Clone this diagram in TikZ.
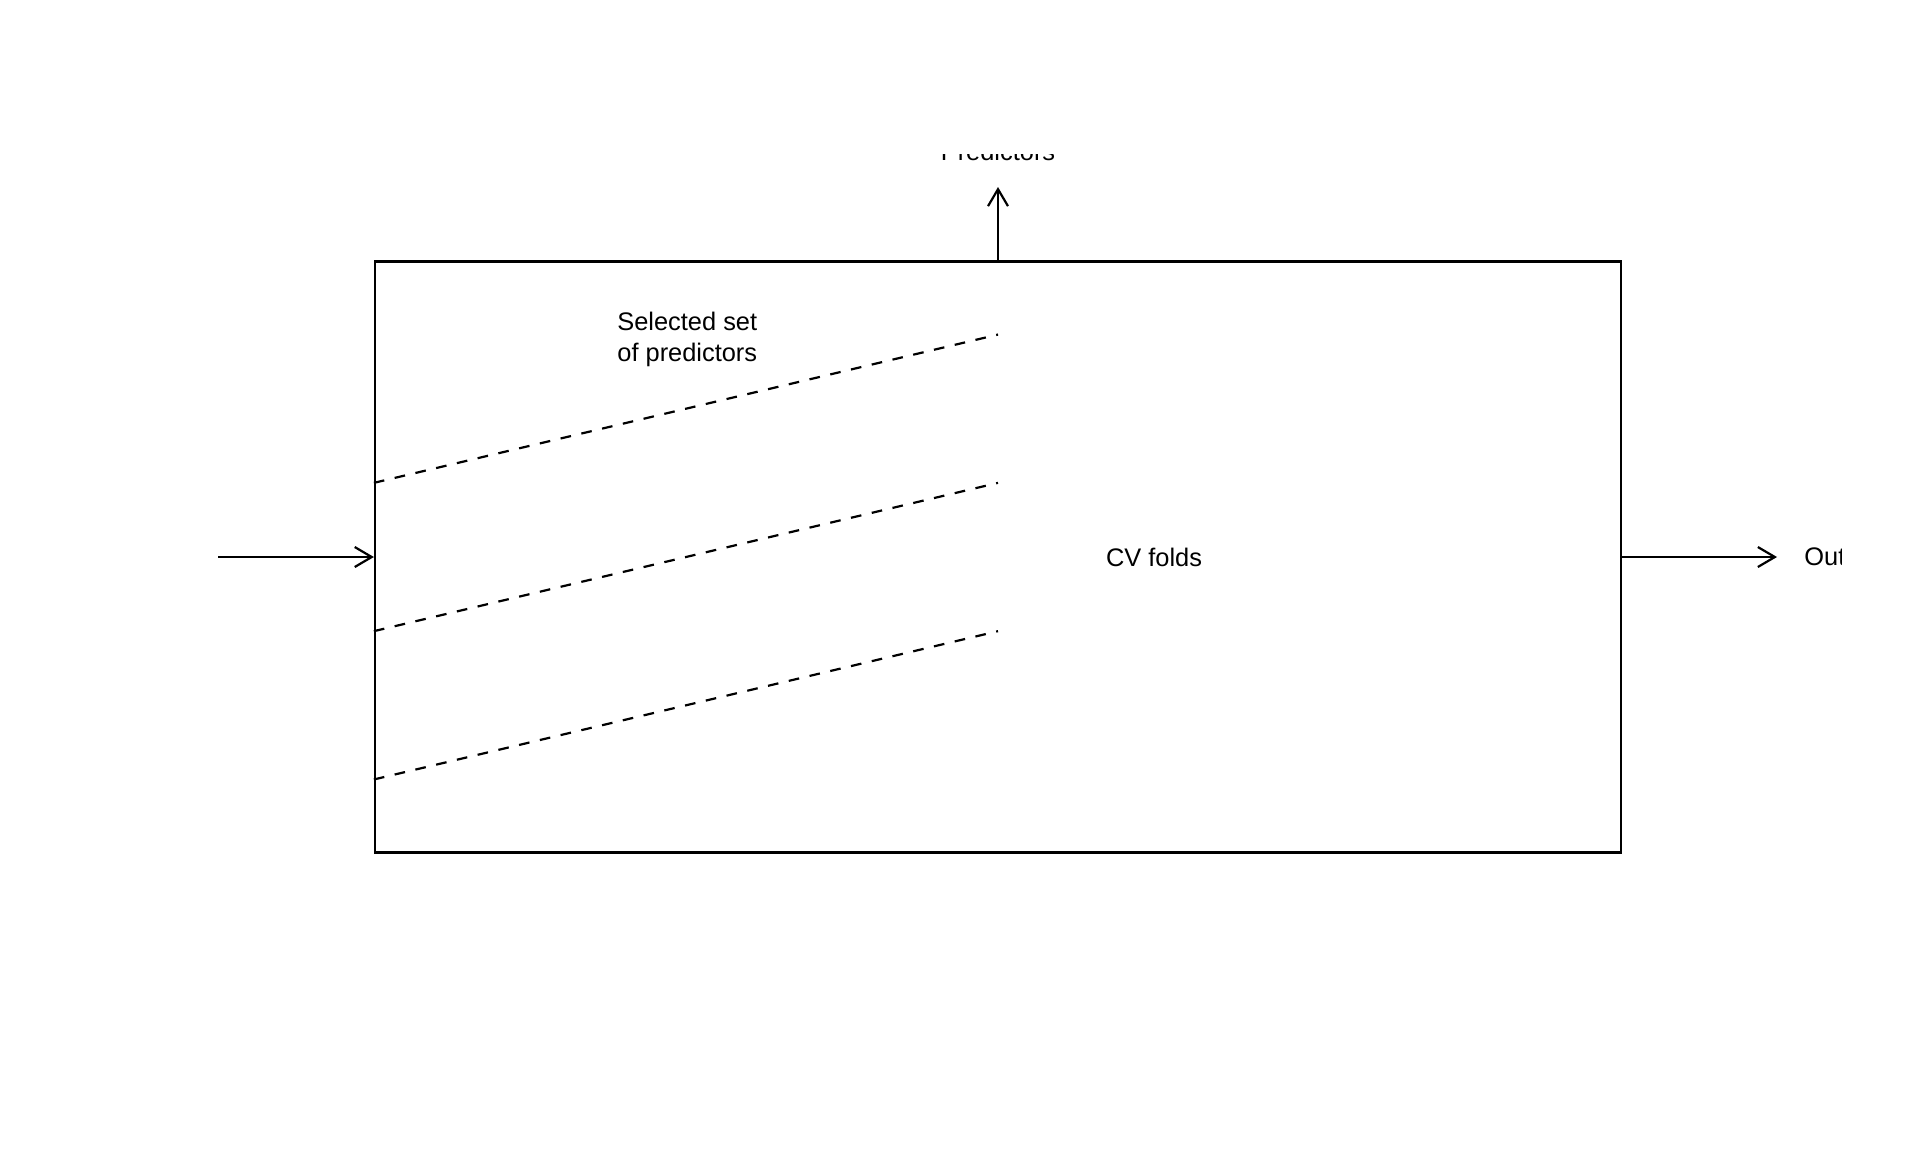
\documentclass[tikz,border=0pt]{standalone}
\usepackage{fontspec}
\setmainfont{Liberation Sans}
\usetikzlibrary{arrows.meta,calc}
\begin{document}
\begin{tikzpicture}[x=0.5pt,y=-0.5pt,
  every node/.style={font=\fontsize{12.7pt}{15.2pt}\selectfont, inner sep=0pt},
  lw/.style={line width=1.1pt},
  arr/.style={lw, -{Straight Barb[length=8.5pt,width=10pt]}},
  dsh/.style={lw, dash pattern=on 5.33pt off 5.33pt},
]
\useasboundingbox (0,0) rectangle (1920,1152);
\begin{scope}
\clip (218,154) rectangle (1841,1100);
\node[draw, lw, minimum width=623pt, minimum height=295.5pt] (box) at (998,557) {};
\node[anchor=south, inner ysep=13pt] (pred) at (998,187) {Predictors};
\draw[arr] (box.north) -- (pred.south);
\node[anchor=west, inner xsep=13.5pt] (out) at (1777,557) {Out};
\draw[arr] (box.east) -- (out.west);
\coordinate (inp) at (218,557);
\draw[arr] (inp) -- (box.west);
\foreach \a/\b in {0.375/0.125, 0.625/0.375, 0.875/0.625}
  \draw[dsh] ($(box.north west)!\a!(box.south west)$) -- ($(box.north)!\b!(box.south)$);
\node[anchor=base west, align=left] (sel) at (617,361) {Selected set\\of predictors};
\node (cv) at (1154,557) {CV folds};
\end{scope}
\end{tikzpicture}
\end{document}
